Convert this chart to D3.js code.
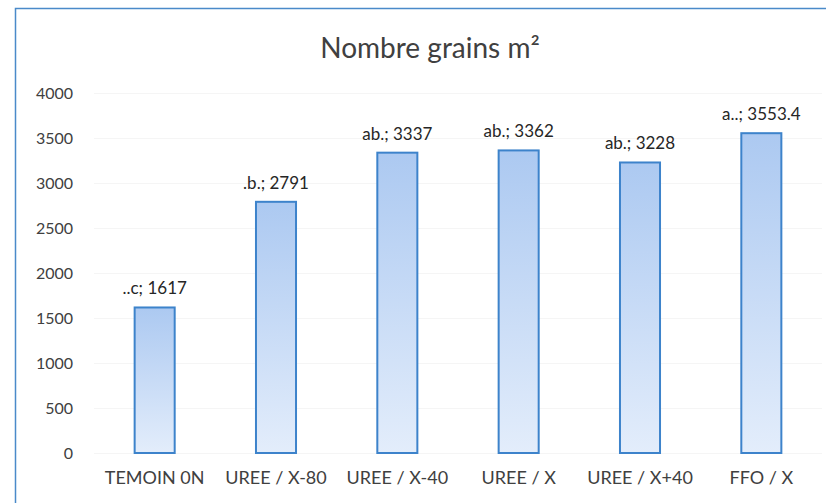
<!DOCTYPE html>
<html>
<head>
<meta charset="utf-8">
<script src="https://cdn.jsdelivr.net/npm/d3@7"></script>
<style>
  body { margin: 0; background: #fff; }
  text { font-family: Lato, "Open Sans", sans-serif; }
</style>
</head>
<body>
<div id="chart"></div>
<script>
// data
var categories = ["TEMOIN 0N", "UREE / X-80", "UREE / X-40", "UREE / X", "UREE / X+40", "FFO / X"];
var values     = [1617, 2791, 3337, 3362, 3228, 3553.4];
var groups     = ["..c", ".b.", "ab.", "ab.", "ab.", "a.."];
var yTicks     = [0, 500, 1000, 1500, 2000, 2500, 3000, 3500, 4000];

var width = 826, height = 503;
var plotLeft = 94, plotRight = 822, plotTop = 93, plotBottom = 453;

var svg = d3.select("#chart").append("svg")
    .attr("width", width)
    .attr("height", height);

var defs = svg.append("defs");
var grad = defs.append("linearGradient")
    .attr("id", "barfill")
    .attr("x1", 0).attr("y1", 0).attr("x2", 0).attr("y2", 1);
grad.append("stop").attr("offset", "0%").attr("stop-color", "#acc9f1");
grad.append("stop").attr("offset", "100%").attr("stop-color", "#e3edfb");

// outer frame (only left and top are visible in the picture)
svg.append("path")
    .attr("d", "M15.5," + height + "V8.5H" + width)
    .attr("fill", "none")
    .attr("stroke", "#4a8ac9")
    .attr("stroke-width", 1.5);

var x = d3.scaleBand()
    .domain(categories)
    .range([plotLeft, plotRight])
    .paddingInner(0.67)
    .paddingOuter(0.335);

var y = d3.scaleLinear()
    .domain([0, 4000])
    .range([plotBottom, plotTop]);

// faint gridlines
svg.append("g")
    .selectAll("line")
    .data(yTicks)
    .enter().append("line")
    .attr("x1", plotLeft).attr("x2", plotRight)
    .attr("y1", function(d) { return y(d) + 0.5; })
    .attr("y2", function(d) { return y(d) + 0.5; })
    .attr("stroke", "#f5f5f5")
    .attr("stroke-width", 1);

// y axis labels
var yAxis = svg.append("g")
    .attr("transform", "translate(" + (plotLeft - 21) + ",0)")
    .call(d3.axisLeft(y).tickValues(yTicks).tickFormat(d3.format("d")).tickSize(0).tickPadding(0));
yAxis.select(".domain").remove();
yAxis.selectAll("text")
    .attr("fill", "#404040")
    .style("font-family", "Lato, sans-serif")
    .style("font-size", "16px");

// x axis labels
var xAxis = svg.append("g")
    .attr("transform", "translate(0," + plotBottom + ")")
    .call(d3.axisBottom(x).tickSize(0).tickPadding(18));
xAxis.select(".domain").remove();
xAxis.selectAll("text")
    .attr("fill", "#404040")
    .style("font-family", "Lato, sans-serif")
    .style("font-size", "18px");

// bars
svg.append("g")
    .selectAll("rect")
    .data(values)
    .enter().append("rect")
    .attr("x", function(d, i) { return x(categories[i]); })
    .attr("y", function(d) { return y(d); })
    .attr("width", x.bandwidth())
    .attr("height", function(d) { return plotBottom - y(d); })
    .attr("fill", "url(#barfill)")
    .attr("stroke", "#3d83cb")
    .attr("stroke-width", 2);

// data labels
svg.append("g")
    .selectAll("text")
    .data(values)
    .enter().append("text")
    .attr("x", function(d, i) { return x(categories[i]) + x.bandwidth() / 2; })
    .attr("y", function(d) { return y(d) - 13; })
    .attr("text-anchor", "middle")
    .attr("fill", "#262626")
    .style("font-size", "17px")
    .text(function(d, i) { return groups[i] + "; " + d; });

// title
svg.append("text")
    .attr("x", 430)
    .attr("y", 58)
    .attr("text-anchor", "middle")
    .attr("fill", "#404040")
    .style("font-size", "28px")
    .text("Nombre grains m²");
</script>
</body>
</html>
